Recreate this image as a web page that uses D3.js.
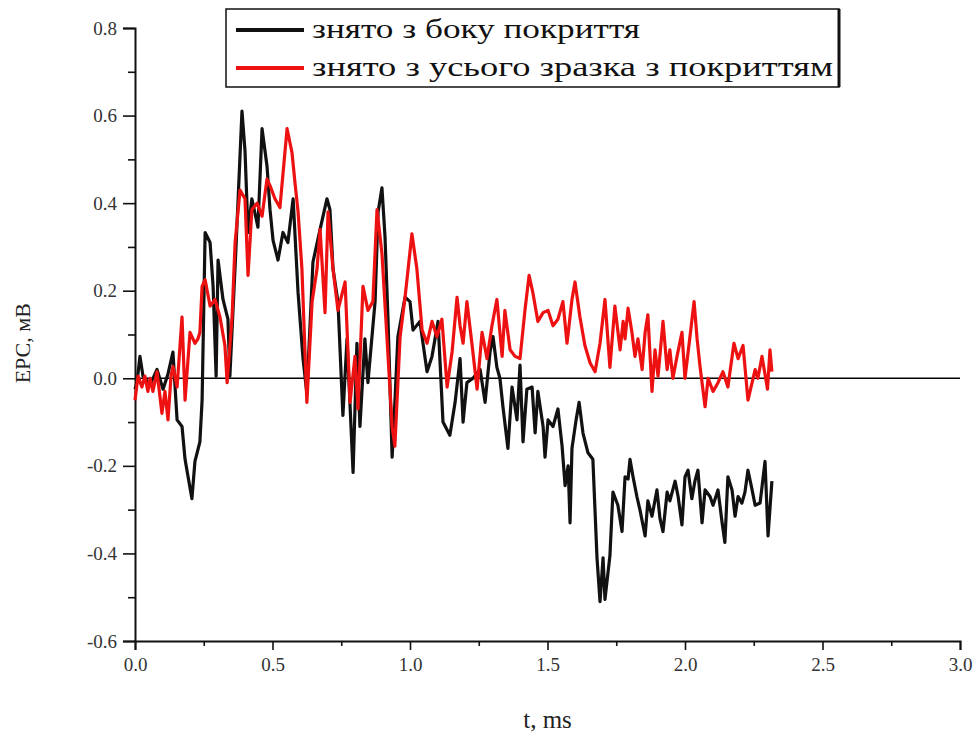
<!DOCTYPE html>
<html lang="uk">
  <head>
    <meta charset="utf-8">
    <title>EPC</title>
    <script src="https://d3js.org/d3.v7.min.js"></script>
    <style>
      body { margin: 0; background: #fff; }
    </style>
  </head>
  <body>
    <svg width="978" height="738"></svg>
    <script type="text/javascript">
      // values (t in ms, EPC in mV)
      var blackT = [0, 0.007, 0.018, 0.029, 0.055, 0.08, 0.102, 0.12, 0.138, 0.153, 0.171, 0.182, 0.193, 0.207,
        0.218, 0.236, 0.244, 0.255, 0.273, 0.284, 0.295, 0.302, 0.32, 0.338, 0.345, 0.367, 0.389, 0.4, 0.411,
        0.425, 0.447, 0.462, 0.48, 0.491, 0.502, 0.52, 0.538, 0.556, 0.575, 0.593, 0.611, 0.625, 0.647, 0.673,
        0.698, 0.709, 0.72, 0.738, 0.756, 0.771, 0.793, 0.807, 0.818, 0.836, 0.847, 0.873, 0.884, 0.898, 0.909,
        0.92, 0.935, 0.945, 0.956, 0.982, 1.0, 1.011, 1.036, 1.062, 1.08, 1.102, 1.12, 1.145, 1.164, 1.182,
        1.193, 1.207, 1.229, 1.255, 1.273, 1.291, 1.302, 1.316, 1.327, 1.338, 1.356, 1.371, 1.389, 1.4, 1.411,
        1.425, 1.444, 1.455, 1.465, 1.484, 1.491, 1.502, 1.52, 1.538, 1.553, 1.564, 1.575, 1.582, 1.589, 1.604,
        1.615, 1.629, 1.647, 1.665, 1.68, 1.691, 1.702, 1.709, 1.727, 1.738, 1.756, 1.771, 1.782, 1.793, 1.8,
        1.811, 1.825, 1.836, 1.855, 1.865, 1.88, 1.898, 1.909, 1.92, 1.935, 1.945, 1.964, 1.975, 1.989, 2.0,
        2.011, 2.025, 2.036, 2.047, 2.062, 2.073, 2.091, 2.102, 2.12, 2.135, 2.145, 2.156, 2.171, 2.182, 2.193,
        2.207, 2.218, 2.229, 2.244, 2.255, 2.273, 2.291, 2.302, 2.316];
      var blackV = [-0.025, -0.01, 0.05, 0.005, -0.015, 0.02, -0.025, 0.01, 0.06, -0.095, -0.11, -0.185, -0.225, -0.275,
        -0.19, -0.145, -0.05, 0.333, 0.31, 0.21, 0.005, 0.27, 0.18, 0.135, 0.005, 0.295, 0.61, 0.52, 0.333,
        0.41, 0.345, 0.57, 0.485, 0.385, 0.315, 0.27, 0.333, 0.31, 0.41, 0.195, 0.045, -0.035, 0.265, 0.34,
        0.41, 0.385, 0.25, 0.175, -0.085, 0.09, -0.215, 0.08, -0.11, 0.09, -0.01, 0.175, 0.38, 0.435, 0.325,
        0.135, -0.18, -0.055, 0.095, 0.185, 0.175, 0.11, 0.13, 0.015, 0.05, 0.13, -0.1, -0.13, -0.055, 0.045,
        -0.1, -0.01, 0.0, 0.02, -0.055, 0.06, 0.095, 0.025, 0.0, -0.065, -0.16, -0.02, -0.095, 0.03, -0.145,
        -0.025, -0.02, -0.125, -0.03, -0.11, -0.18, -0.095, -0.11, -0.07, -0.155, -0.245, -0.2, -0.33, -0.16, -0.095,
        -0.055, -0.125, -0.17, -0.185, -0.41, -0.51, -0.41, -0.505, -0.405, -0.26, -0.29, -0.35, -0.225, -0.23, -0.185,
        -0.225, -0.27, -0.3, -0.36, -0.28, -0.315, -0.255, -0.32, -0.35, -0.26, -0.28, -0.235, -0.27, -0.335, -0.225,
        -0.21, -0.275, -0.235, -0.21, -0.33, -0.255, -0.27, -0.29, -0.255, -0.33, -0.375, -0.225, -0.255, -0.315, -0.27,
        -0.285, -0.26, -0.21, -0.255, -0.29, -0.285, -0.19, -0.36, -0.235];

      var redT = [0, 0.011, 0.025, 0.036, 0.047, 0.055, 0.065, 0.08, 0.098, 0.109, 0.12, 0.131, 0.138, 0.153,
        0.171, 0.182, 0.2, 0.218, 0.229, 0.236, 0.244, 0.255, 0.273, 0.291, 0.309, 0.327, 0.335, 0.353, 0.364,
        0.382, 0.4, 0.411, 0.425, 0.444, 0.462, 0.48, 0.491, 0.509, 0.527, 0.553, 0.571, 0.582, 0.593, 0.607,
        0.625, 0.644, 0.662, 0.673, 0.691, 0.702, 0.72, 0.738, 0.764, 0.782, 0.8, 0.811, 0.829, 0.847, 0.865,
        0.88, 0.898, 0.916, 0.935, 0.945, 0.964, 0.982, 1.007, 1.025, 1.044, 1.062, 1.08, 1.098, 1.116, 1.135,
        1.153, 1.171, 1.182, 1.193, 1.207, 1.225, 1.244, 1.262, 1.28, 1.298, 1.316, 1.335, 1.345, 1.364, 1.382,
        1.4, 1.418, 1.433, 1.447, 1.465, 1.484, 1.502, 1.52, 1.538, 1.556, 1.571, 1.589, 1.6, 1.618, 1.636,
        1.655, 1.673, 1.691, 1.709, 1.727, 1.745, 1.764, 1.775, 1.782, 1.793, 1.807, 1.818, 1.829, 1.844, 1.855,
        1.865, 1.88, 1.891, 1.902, 1.92, 1.935, 1.945, 1.956, 1.971, 1.989, 2.0, 2.018, 2.033, 2.044, 2.055,
        2.073, 2.084, 2.102, 2.12, 2.138, 2.156, 2.178, 2.193, 2.211, 2.229, 2.244, 2.255, 2.265, 2.28, 2.3,
        2.309, 2.316];
      var redV = [-0.05, 0.005, -0.02, 0.005, -0.03, 0.0, -0.03, 0.015, -0.08, -0.03, -0.095, 0.005, 0.027, -0.02,
        0.14, -0.05, 0.105, 0.08, 0.09, 0.105, 0.21, 0.225, 0.165, 0.18, 0.14, 0.075, -0.01, 0.14, 0.31,
        0.43, 0.41, 0.235, 0.385, 0.4, 0.37, 0.455, 0.44, 0.41, 0.39, 0.57, 0.515, 0.445, 0.38, 0.25,
        -0.055, 0.175, 0.25, 0.34, 0.15, 0.38, 0.25, 0.155, 0.22, -0.055, 0.05, -0.07, 0.21, 0.155, 0.175,
        0.385, 0.285, 0.095, -0.11, -0.155, 0.095, 0.185, 0.33, 0.25, 0.11, 0.08, 0.13, 0.095, 0.135, -0.02,
        0.06, 0.185, 0.12, 0.08, 0.175, 0.08, -0.025, 0.105, 0.045, 0.12, 0.18, 0.05, 0.155, 0.065, 0.05,
        0.045, 0.155, 0.235, 0.195, 0.13, 0.15, 0.155, 0.12, 0.135, 0.175, 0.08, 0.18, 0.22, 0.14, 0.075,
        0.035, 0.015, 0.08, 0.18, 0.025, 0.165, 0.065, 0.13, 0.09, 0.16, 0.105, 0.05, 0.09, 0.02, 0.105,
        0.145, -0.03, 0.065, 0.005, 0.13, 0.02, 0.065, 0.0, 0.05, 0.105, 0.0, 0.095, 0.175, 0.09, 0.025,
        -0.065, 0.0, -0.03, -0.01, 0.015, -0.02, 0.08, 0.045, 0.075, -0.05, -0.01, 0.02, 0.0, 0.05, -0.025,
        0.065, 0.015];

      var xTicks = [0, 0.5, 1.0, 1.5, 2.0, 2.5, 3.0];
      var xMinor = [0.25, 0.75, 1.25, 1.75, 2.25, 2.75];
      var yTicks = [-0.6, -0.4, -0.2, 0.0, 0.2, 0.4, 0.6, 0.8];
      var yMinor = [-0.5, -0.3, -0.1, 0.1, 0.3, 0.5, 0.7];
      var legendNames = ["знято з боку покриття", "знято з усього зразка з покриттям"];
      var colors = ["#111111", "#ee1111"];

      var serif = "Liberation Serif";

      var svg = d3.select("svg");
      var x = d3.scaleLinear().domain([0, 3]).range([135, 960]);
      var y = d3.scaleLinear().domain([-0.6, 0.8]).range([641, 28]);

      var fmt = function(d) { return d3.format(".1f")(d).replace("−", "-"); };

      // zero line
      svg.append("line")
          .attr("x1", x(0)).attr("x2", x(3))
          .attr("y1", y(0)).attr("y2", y(0))
          .attr("stroke", "#000").attr("stroke-width", 1.5);

      // axes
      svg.append("g").attr("transform", "translate(0," + y(-0.6) + ")")
          .call(d3.axisBottom(x).tickValues(xTicks).tickFormat(fmt).tickSize(9).tickPadding(8));
      svg.append("g").attr("transform", "translate(0," + y(-0.6) + ")")
          .call(d3.axisBottom(x).tickValues(xMinor).tickFormat("").tickSize(5))
          .select(".domain").remove();

      svg.append("g").attr("transform", "translate(" + x(0) + ",0)")
          .call(d3.axisLeft(y).tickValues(yTicks).tickFormat(fmt).tickSize(12).tickPadding(6));
      svg.append("g").attr("transform", "translate(" + x(0) + ",0)")
          .call(d3.axisLeft(y).tickValues(yMinor).tickFormat("").tickSize(7))
          .select(".domain").remove();

      svg.selectAll(".domain").attr("stroke-width", 2).attr("stroke", "#111");
      svg.selectAll(".tick line").attr("stroke-width", 1.6).attr("stroke", "#111");
      svg.selectAll(".tick text")
          .attr("font-family", serif)
          .attr("font-size", 19)
          .attr("fill", "#333");

      // series (black first, red on top)
      var line = d3.line()
          .x(function(d) { return x(d[0]); })
          .y(function(d) { return y(d[1]); });

      var series = [d3.zip(blackT, blackV), d3.zip(redT, redV)];
      svg.append("g").selectAll("path")
          .data(series)
          .enter().append("path")
          .attr("d", line)
          .attr("fill", "none")
          .attr("stroke", function(d, i) { return colors[i]; })
          .attr("stroke-width", 3.2)
          .attr("stroke-linejoin", "round");

      // axis titles
      svg.append("text")
          .attr("x", x(1.5)).attr("y", 728)
          .attr("text-anchor", "middle")
          .attr("font-family", serif)
          .attr("font-size", 25).attr("fill", "#222")
          .text("t, ms");
      svg.append("text")
          .attr("transform", "translate(30," + y(0.08) + ") rotate(-90)")
          .attr("text-anchor", "middle")
          .attr("font-family", serif)
          .attr("font-size", 22).attr("fill", "#222")
          .text("ЕРС, мВ");

      // legend
      var lg = svg.append("g");
      lg.append("rect")
          .attr("x", 226).attr("y", 9).attr("width", 613).attr("height", 78)
          .attr("fill", "#fff").attr("stroke", "#111").attr("stroke-width", 1.5);
      lg.append("line")
          .attr("x1", 839).attr("x2", 839).attr("y1", 9).attr("y2", 87)
          .attr("stroke", "#111").attr("stroke-width", 3);
      var legendY = [30, 68];
      var legendLen = [328, 521];
      legendNames.forEach(function(name, i) {
        lg.append("line")
            .attr("x1", 236).attr("x2", 304)
            .attr("y1", legendY[i]).attr("y2", legendY[i])
            .attr("stroke", colors[i]).attr("stroke-width", 4);
        lg.append("text")
            .attr("x", 312).attr("y", legendY[i] + 8)
            .attr("textLength", legendLen[i])
            .attr("lengthAdjust", "spacingAndGlyphs")
            .attr("font-family", serif)
            .attr("font-size", 28).attr("fill", "#111")
            .text(name);
      });
    </script>
  </body>
</html>
